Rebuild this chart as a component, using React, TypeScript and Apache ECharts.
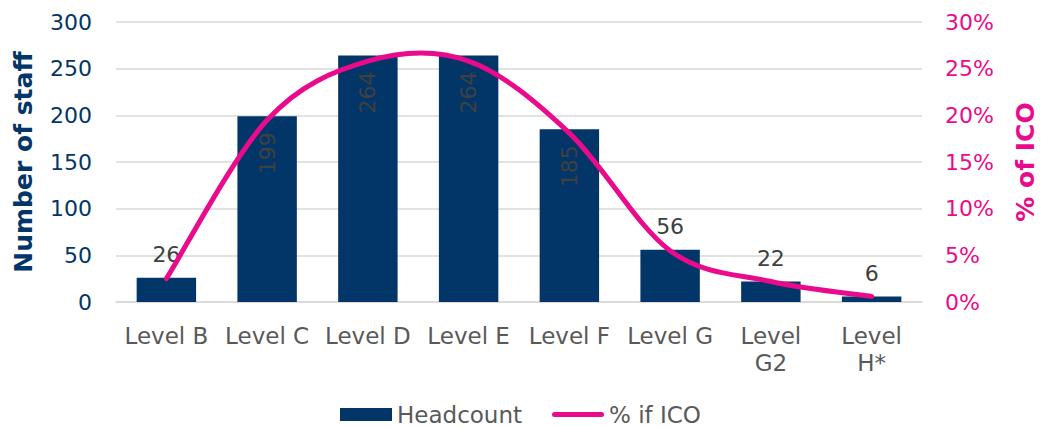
import React, { useEffect, useRef } from "react";
import * as echarts from "echarts";

const categories = ["Level B", "Level C", "Level D", "Level E", "Level F", "Level G", "Level G2", "Level H*"];
const headcount = [26, 199, 264, 264, 185, 56, 22, 6];
const pctIco = [2.5, 19.5, 25.8, 25.8, 18.1, 5.5, 2.2, 0.6];
const leftTicks = { min: 0, max: 300, interval: 50 };
const rightTicks = { min: 0, max: 30, interval: 5 };

const NAVY = "#033668";
const PINK = "#EA0A8C";
const GRAY = "#404040";
const LGRAY = "#595959";
const GRID = "#d9d9d9";
const FONT = "'DejaVu Sans', Verdana, sans-serif";

const insideLabelIdx = [1, 2, 3, 4];

const LINE_ICON = "path://M0,0 M52,13 M2.5,4 L49.5,4 A2.5,2.5 0 0 1 49.5,9 L2.5,9 A2.5,2.5 0 0 1 2.5,4 Z";

export default function App() {
  const ref = useRef<HTMLDivElement>(null);
  useEffect(() => {
    if (!ref.current) return;
    const chart = echarts.init(ref.current, null, { renderer: "svg" });
    const barData = headcount.map((v, i) => {
      const inside = insideLabelIdx.includes(i);
      return {
        value: v,
        label: inside
          ? {
              show: true,
              position: "insideTop",
              rotate: 90,
              align: "right",
              verticalAlign: "middle",
              distance: 16,
              color: GRAY,
              fontSize: 22,
              fontFamily: FONT,
            }
          : {
              show: true,
              position: "top",
              distance: 12,
              color: GRAY,
              fontSize: 22,
              fontFamily: FONT,
            },
      };
    });
    const renderLine = (params: any, api: any) => {
      if (params.dataIndex !== 0) return { type: "group", children: [] };
      const pts = pctIco.map((v, i) => api.coord([i, v]));
      let d = `M${pts[0][0]},${pts[0][1]}`;
      for (let i = 0; i < pts.length - 1; i++) {
        const p0 = pts[i - 1] || pts[i];
        const p1 = pts[i];
        const p2 = pts[i + 1];
        const p3 = pts[i + 2] || p2;
        const c1x = p1[0] + (p2[0] - p0[0]) / 6;
        const c1y = p1[1] + (p2[1] - p0[1]) / 6;
        const c2x = p2[0] - (p3[0] - p1[0]) / 6;
        const c2y = p2[1] - (p3[1] - p1[1]) / 6;
        d += ` C${c1x},${c1y} ${c2x},${c2y} ${p2[0]},${p2[1]}`;
      }
      return {
        type: "path",
        shape: { pathData: d },
        style: { fill: "none", stroke: PINK, lineWidth: 5, lineCap: "round", lineJoin: "round" },
      };
    };
    chart.setOption({
      animation: false,
      grid: { left: 116, right: 119, top: 22, bottom: 125, containLabel: false, outerBoundsMode: "none" },
      legend: {
        left: 340,
        top: 403,
        padding: 0,
        itemWidth: 52,
        itemHeight: 13,
        itemGap: 30,
        textStyle: { fontFamily: FONT, fontSize: 23, color: LGRAY },
        data: [
          { name: "Headcount", icon: "rect" },
          { name: "% if ICO", icon: LINE_ICON },
        ],
      },
      xAxis: {
        type: "category",
        data: categories,
        axisTick: { show: false },
        axisLine: { show: true, lineStyle: { color: GRID, width: 1.5 } },
        axisLabel: {
          margin: 20,
          fontFamily: FONT,
          fontSize: 23,
          lineHeight: 27,
          color: LGRAY,
          interval: 0,
          formatter: (v: string) => (v.length > 7 ? v.replace(" ", "\n") : v),
        },
      },
      yAxis: [
        {
          type: "value",
          ...leftTicks,
          name: "Number of staff",
          nameLocation: "middle",
          nameRotate: 90,
          nameGap: 80,
          nameTextStyle: { fontFamily: FONT, fontWeight: "bold", fontSize: 25, color: NAVY },
          axisLine: { show: false },
          axisTick: { show: false },
          splitLine: { lineStyle: { color: GRID, width: 1.5 } },
          axisLabel: { margin: 24, fontFamily: FONT, fontSize: 22, color: NAVY },
        },
        {
          type: "value",
          ...rightTicks,
          name: "% of ICO",
          nameLocation: "middle",
          nameRotate: 90,
          nameGap: 91,
          nameTextStyle: { fontFamily: FONT, fontWeight: "bold", fontSize: 25, color: PINK },
          axisLine: { show: false },
          axisTick: { show: false },
          splitLine: { show: false },
          axisLabel: { margin: 23, fontFamily: FONT, fontSize: 22, color: PINK, formatter: "{value}%" },
        },
      ],
      series: [
        {
          name: "Headcount",
          type: "bar",
          data: barData,
          barWidth: "59%",
          itemStyle: { color: NAVY },
          yAxisIndex: 0,
        },
        {
          name: "% if ICO",
          type: "custom",
          data: pctIco.map((v, i) => [i, v]),
          encode: { x: 0, y: 1 },
          yAxisIndex: 1,
          clip: false,
          itemStyle: { color: PINK },
          renderItem: renderLine,
          z: 5,
        },
      ],
    });
    return () => chart.dispose();
  }, []);
  return (
    <div
      ref={ref}
      style={{ position: "fixed", left: 0, top: 0, width: 1041, height: 427, background: "#fff" }}
    />
  );
}
